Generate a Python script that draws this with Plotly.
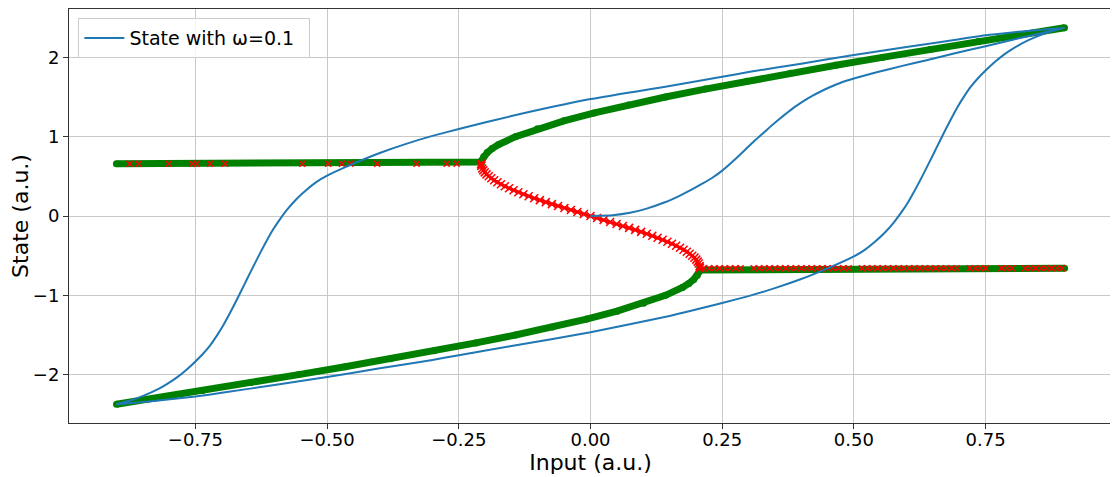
import plotly.graph_objects as go

# ---- stable branches (green) ----
upper_u = [-0.9, -0.2076, -0.2073, -0.2066, -0.2027, -0.196, -0.1867, -0.1745, -0.1424, -0.1008,
           -0.0505, 0.0074, 0.0719, 0.1423, 0.2175, 0.2969, 0.3798, 0.4657, 0.554, 0.6443,
           0.7364, 0.8299, 0.8998]
upper_x = [0.66, 0.66, 0.68, 0.70, 0.75, 0.80, 0.85, 0.90, 1.00, 1.10,
           1.20, 1.30, 1.40, 1.50, 1.60, 1.70, 1.80, 1.90, 2.00, 2.10,
           2.20, 2.30, 2.374]
lower_u = [0.9, 0.2076, 0.2073, 0.2066, 0.2027, 0.196, 0.1867, 0.1745, 0.1424, 0.1008,
           0.0505, -0.0074, -0.0719, -0.1423, -0.2175, -0.2969, -0.3798, -0.4657, -0.554, -0.6443,
           -0.7364, -0.8299, -0.8998]
lower_x = [-0.66, -0.66, -0.68, -0.70, -0.75, -0.80, -0.85, -0.90, -1.00, -1.10,
           -1.20, -1.30, -1.40, -1.50, -1.60, -1.70, -1.80, -1.90, -2.00, -2.10,
           -2.20, -2.30, -2.374]

# ---- unstable branch (red x) ----
red_u = [-0.2076, -0.2076, -0.2072, -0.2055, -0.2035, -0.2008, -0.1974, -0.1932, -0.1883, -0.1829,
         -0.1767, -0.1699, -0.1626, -0.1546, -0.146, -0.137, -0.1274, -0.1174, -0.1069, -0.0961,
         -0.0848, -0.0733, -0.0615, -0.0495, -0.0373, -0.0249, -0.0125, 0.0,
         0.0125, 0.0249, 0.0373, 0.0495, 0.0615, 0.0733, 0.0848, 0.0961, 0.1069, 0.1174,
         0.1274, 0.137, 0.146, 0.1546, 0.1626, 0.1699, 0.1767, 0.1829, 0.1883, 0.1932,
         0.1974, 0.2008, 0.2035, 0.2055, 0.2072, 0.2076, 0.2076]
red_x = [0.66, 0.65, 0.63, 0.60, 0.575, 0.55, 0.525, 0.50, 0.475, 0.45,
         0.425, 0.40, 0.375, 0.35, 0.325, 0.30, 0.275, 0.25, 0.225, 0.20,
         0.175, 0.15, 0.125, 0.10, 0.075, 0.05, 0.025, 0.0,
         -0.025, -0.05, -0.075, -0.10, -0.125, -0.15, -0.175, -0.20, -0.225, -0.25,
         -0.275, -0.30, -0.325, -0.35, -0.375, -0.40, -0.425, -0.45, -0.475, -0.50,
         -0.525, -0.55, -0.575, -0.60, -0.63, -0.65, -0.66]

# red x markers sitting on the flat segments
red_flat_hi_u = [-0.875, -0.858, -0.801, -0.756, -0.748, -0.722, -0.694, -0.547, -0.498,
                 -0.472, -0.456, -0.405, -0.330, -0.273, -0.254]
red_flat_hi_x = 0.66
red_flat_lo_u = [0.215, 0.225, 0.235, 0.245, 0.255, 0.265, 0.275, 0.285, 0.31, 0.32, 0.33,
                 0.34, 0.35, 0.36, 0.37, 0.38, 0.39, 0.40, 0.41, 0.42, 0.43, 0.44, 0.45,
                 0.46, 0.47, 0.48, 0.49, 0.515, 0.525, 0.535, 0.545, 0.555, 0.565, 0.575,
                 0.585, 0.595, 0.605, 0.615, 0.625, 0.635, 0.645, 0.655, 0.665, 0.675,
                 0.685, 0.695, 0.72, 0.73, 0.74, 0.75, 0.78, 0.79, 0.80, 0.825, 0.835,
                 0.845, 0.855, 0.865, 0.875, 0.885, 0.895]
red_flat_lo_x = -0.66

# ---- blue trajectory (omega = 0.1) ----
rise_u = [0.0, 0.042, 0.075, 0.105, 0.14, 0.169, 0.19, 0.213, 0.232, 0.25, 0.272, 0.295, 0.31,
          0.326, 0.342, 0.358, 0.374, 0.39, 0.405, 0.421, 0.437, 0.453, 0.475, 0.5, 0.547,
          0.59, 0.636, 0.69, 0.75, 0.825, 0.9]
rise_x = [0.0, 0.01, 0.04, 0.09, 0.17, 0.255, 0.325, 0.41, 0.485, 0.572, 0.70, 0.845, 0.94,
          1.034, 1.13, 1.22, 1.305, 1.385, 1.452, 1.515, 1.57, 1.62, 1.68, 1.733, 1.818,
          1.89, 1.96, 2.05, 2.14, 2.26, 2.374]
back_u = [0.85, 0.8, 0.75, 0.7, 0.6, 0.5, 0.4, 0.3, 0.25, 0.15, 0.0, -0.15, -0.25, -0.3,
          -0.35, -0.4, -0.45, -0.5, -0.52, -0.54, -0.558, -0.576, -0.59, -0.602, -0.615,
          -0.627, -0.64, -0.652, -0.662, -0.671, -0.683, -0.696, -0.709, -0.722, -0.736,
          -0.75, -0.768, -0.785, -0.802, -0.82, -0.848, -0.875, -0.9]
back_x = [2.345, 2.315, 2.28, 2.23, 2.13, 2.03, 1.92, 1.815, 1.755, 1.64, 1.474, 1.26, 1.097,
          1.01, 0.91, 0.795, 0.66, 0.509, 0.43, 0.325, 0.215, 0.08, -0.045, -0.165, -0.315,
          -0.465, -0.635, -0.795, -0.93, -1.05, -1.205, -1.365, -1.505, -1.63, -1.74,
          -1.835, -1.945, -2.035, -2.11, -2.18, -2.265, -2.33, -2.374]
fwd_u = [-0.875, -0.848, -0.82, -0.785, -0.75, -0.7, -0.6, -0.5, -0.4, -0.3, -0.25, -0.15, 0.0,
         0.15, 0.25, 0.3, 0.35, 0.4, 0.45, 0.5, 0.52, 0.54, 0.558, 0.576, 0.59, 0.602, 0.615,
         0.627, 0.64, 0.652, 0.662, 0.671, 0.683, 0.696, 0.709, 0.722, 0.736, 0.75, 0.768,
         0.785, 0.802, 0.82, 0.848, 0.875, 0.9]
fwd_x = [-2.36, -2.345, -2.325, -2.30, -2.275, -2.23, -2.13, -2.03, -1.92, -1.815, -1.755, -1.64,
         -1.465, -1.26, -1.097, -1.01, -0.91, -0.795, -0.66, -0.509, -0.43, -0.325, -0.215,
         -0.08, 0.045, 0.165, 0.315, 0.465, 0.635, 0.795, 0.93, 1.05, 1.205, 1.365, 1.505,
         1.63, 1.74, 1.835, 1.945, 2.035, 2.11, 2.18, 2.265, 2.33, 2.374]

x_ticks = [-0.75, -0.5, -0.25, 0.0, 0.25, 0.5, 0.75]
x_tick_text = ["\u22120.75", "\u22120.50", "\u22120.25", "0.00", "0.25", "0.50", "0.75"]
y_ticks = [-2, -1, 0, 1, 2]
y_tick_text = ["\u22122", "\u22121", "0", "1", "2"]

GREEN = "#008000"
RED = "#ff0000"
BLUE = "#1f77b4"

fig = go.Figure()
for uu, xx in ((upper_u, upper_x), (lower_u, lower_x)):
    fig.add_trace(go.Scatter(x=uu, y=xx, mode="lines+markers",
                             line=dict(color=GREEN, width=7),
                             marker=dict(color=GREEN, size=7, symbol="circle"),
                             showlegend=False, hoverinfo="skip"))

fig.add_trace(go.Scatter(x=red_u, y=red_x, mode="lines+markers",
                         line=dict(color=RED, width=3),
                         marker=dict(symbol="x-thin", size=8, line=dict(color=RED, width=1.5)),
                         showlegend=False, hoverinfo="skip"))
fig.add_trace(go.Scatter(x=red_flat_hi_u, y=[red_flat_hi_x] * len(red_flat_hi_u), mode="markers",
                         marker=dict(symbol="x-thin", size=6, line=dict(color=RED, width=1.5)),
                         showlegend=False, hoverinfo="skip"))
fig.add_trace(go.Scatter(x=red_flat_lo_u, y=[red_flat_lo_x] * len(red_flat_lo_u), mode="markers",
                         marker=dict(symbol="x-thin", size=6, line=dict(color=RED, width=1.5)),
                         showlegend=False, hoverinfo="skip"))

fig.add_trace(go.Scatter(x=rise_u + back_u + fwd_u, y=rise_x + back_x + fwd_x, mode="lines",
                         line=dict(color=BLUE, width=2), name="State with \u03c9=0.1",
                         line_shape="spline", line_smoothing=0.5))

# the page body adds an 8px offset, so the figure is sized to fill the window from there
fig.update_layout(
    width=1110, height=469,
    margin=dict(l=61, r=6, t=1, b=54, autoexpand=False),
    plot_bgcolor="white", paper_bgcolor="white",
    font=dict(family="DejaVu Sans", size=18, color="black"),
    showlegend=True,
    legend=dict(x=0.009, y=0.978, xanchor="left", yanchor="top", orientation="h",
                bgcolor="rgba(255,255,255,0.8)", bordercolor="#cccccc", borderwidth=1,
                font=dict(size=19), entrywidth=175, itemwidth=40),
)
fig.update_xaxes(range=[-0.99, 0.99], tickvals=x_ticks, ticktext=x_tick_text,
                 showgrid=True, gridcolor="#c8c8c8", gridwidth=1, zeroline=False,
                 showline=True, mirror=True, linecolor="#333333", linewidth=1,
                 ticks="outside", ticklen=5, tickcolor="#333333", automargin=False,
                 ticklabelstandoff=-5,
                 title=dict(text="Input (a.u.)", font=dict(size=22), standoff=0))
fig.update_yaxes(range=[-2.61, 2.61], tickvals=y_ticks, ticktext=y_tick_text,
                 showgrid=True, gridcolor="#c8c8c8", gridwidth=1, zeroline=False,
                 showline=True, mirror=True, linecolor="#333333", linewidth=1,
                 ticks="outside", ticklen=5, tickcolor="#333333", automargin=False,
                 title=dict(text="State (a.u.)", font=dict(size=22), standoff=8))

fig.write_html("out.html")
